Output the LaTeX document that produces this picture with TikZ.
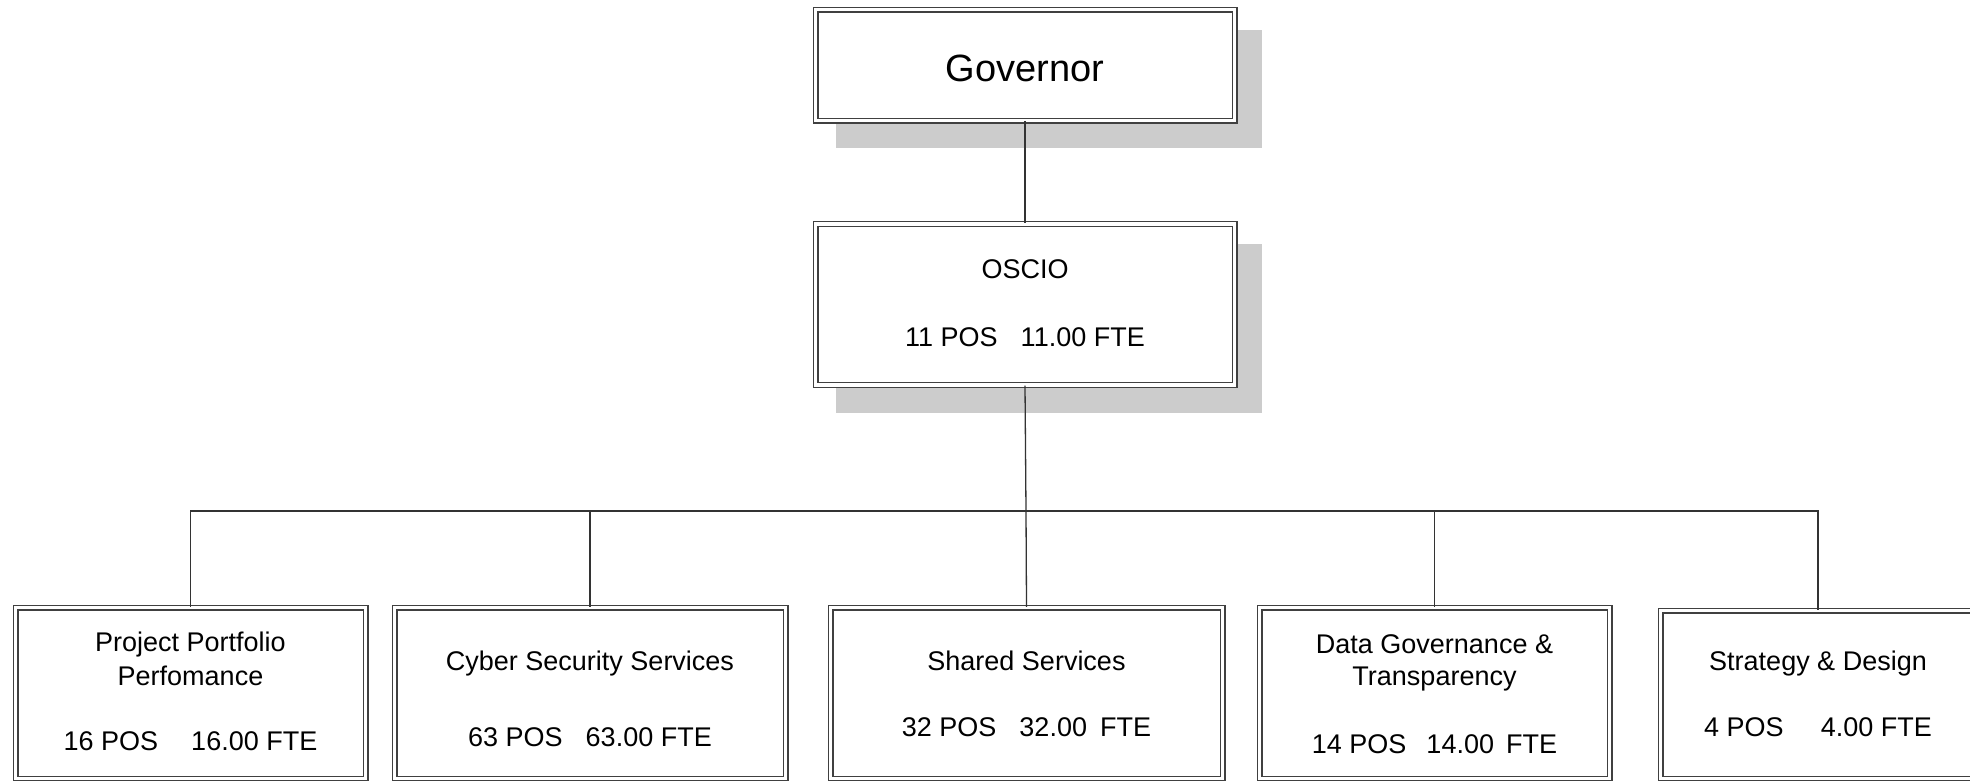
\documentclass[tikz,border=0pt]{standalone}
\usepackage{fontspec}
\setmainfont{Liberation Sans}
\usetikzlibrary{backgrounds}
\begin{document}
\begin{tikzpicture}[x=1pt,y=-1pt,
  box/.style={draw=black!75, double=white, double distance=3.6pt, line width=1.2pt, fill=white, inner sep=0pt},
  conn/.style={draw=black!80, line width=1.3pt},
  txt/.style={anchor=base, inner sep=0pt, font=\fontsize{27}{32}\selectfont},
  shadowfill/.style={fill=black!20}]
\useasboundingbox (0,0) rectangle (1970,780);

% top boxes
\node[box, minimum width=419pt, minimum height=111pt] (gov) at (1025,65) {};
\node[box, minimum width=419pt, minimum height=161pt] (osc) at (1025,304.5) {};

% shadows
\begin{scope}[on background layer]
\fill[shadowfill] ([shift={(21,21)}]gov.north west) rectangle ([shift={(27,27)}]gov.south east);
\fill[shadowfill] ([shift={(21,21)}]osc.north west) rectangle ([shift={(27,27)}]osc.south east);
\end{scope}

% bottom boxes
\node[box, minimum width=350pt, minimum height=171pt] (b1) at (190.5,693) {};
\node[box, minimum width=391pt, minimum height=171pt] (b2) at (590,693) {};
\node[box, minimum width=392pt, minimum height=171pt] (b3) at (1026.5,693) {};
\node[box, minimum width=350pt, minimum height=171pt] (b4) at (1434.5,693) {};
\node[box, minimum width=315pt, minimum height=168pt] (b5) at (1818,694.5) {};

% texts
\node[txt, font=\fontsize{38}{44}\selectfont] (govt) at (1025,81.7) {Governor};
\node[txt] (osct1) at (1025,278) {OSCIO};
\node[txt] (osct2) at (1025,346.7) {11 POS\hspace{23pt}11.00 FTE};

\node[txt] (b1t1) at (190.5,651.7) {Project Portfolio};
\node[txt] (b1t2) at (190.5,685) {Perfomance};
\node[txt] (b1t3) at (190.5,750) {16 POS\hspace{33pt}16.00 FTE};

\node[txt] (b2t1) at (590,670) {Cyber Security Services};
\node[txt] (b2t2) at (590,746.7) {63 POS\hspace{23pt}63.00 FTE};

\node[txt] (b3t1) at (1026.5,670) {Shared Services};
\node[txt] (b3t2) at (1026.5,736.7) {32 POS\hspace{23pt}32.00\hspace{13pt}FTE};

\node[txt] (b4t1) at (1434.5,653) {Data Governance \&};
\node[txt] (b4t2) at (1434.5,685) {Transparency};
\node[txt] (b4t3) at (1434.5,753) {14 POS\hspace{20pt}14.00\hspace{12pt}FTE};

\node[txt] (b5t1) at (1818,670) {Strategy \& Design};
\node[txt] (b5t2) at (1818,736.7) {4 POS\hspace{37pt}4.00 FTE};

% connectors
\coordinate (busc) at (1026,511);
\draw[conn] (gov.south) -- (osc.north);
\draw[conn] (osc.south) -- (busc);
\draw[conn] (b1.north) |- (busc);
\draw[conn] (b2.north) |- (busc);
\draw[conn] (busc) -- (b3.north);
\draw[conn] (b4.north) |- (busc);
\draw[conn] (b5.north) |- (busc);
\end{tikzpicture}
\end{document}
